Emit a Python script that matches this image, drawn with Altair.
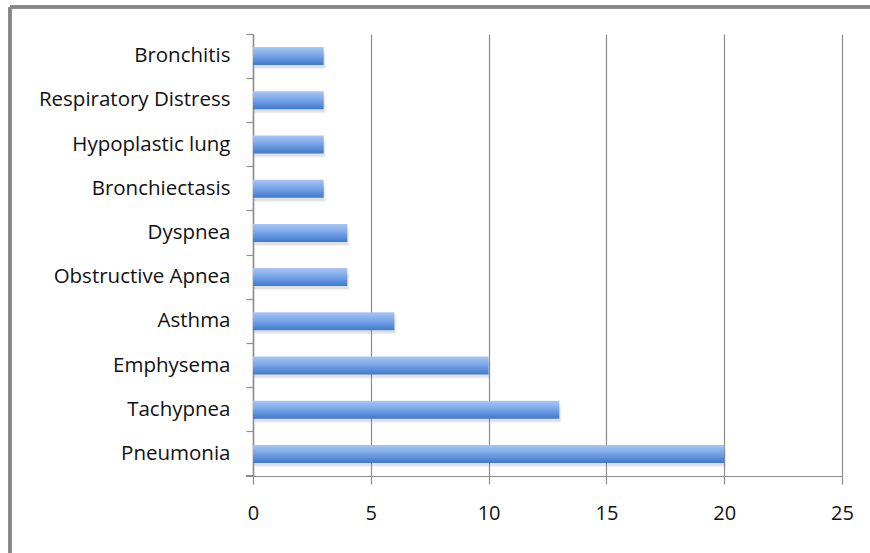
import altair as alt
import pandas as pd

# Respiratory conditions and their case counts
conditions = [
    "Bronchitis", "Respiratory Distress", "Hypoplastic lung", "Bronchiectasis",
    "Dyspnea", "Obstructive Apnea", "Asthma", "Emphysema", "Tachypnea", "Pneumonia",
]
counts = [3, 3, 3, 3, 4, 4, 6, 10, 13, 20]
x_ticks = [0, 5, 10, 15, 20, 25]

df = pd.DataFrame({"condition": conditions, "count": counts})

FONT = "Open Sans"
GRID = "#8c8c8c"
W, H = 589, 442

x_enc = alt.X(
    "count:Q",
    scale=alt.Scale(domain=[0, 25], nice=False),
    axis=alt.Axis(
        values=x_ticks, title=None, grid=True, gridColor=GRID, gridWidth=1.2,
        domain=True, domainColor=GRID, domainWidth=1.2,
        ticks=True, tickColor=GRID, tickSize=8, tickWidth=1.2,
        labelPadding=19, labelFontSize=20, labelFont=FONT, labelColor="#111111",
        labelFlush=False,
    ),
)
y_enc = alt.Y(
    "condition:N",
    sort=conditions,
    scale=alt.Scale(paddingInner=0, paddingOuter=0),
    axis=alt.Axis(
        title=None, grid=False, bandPosition=0,
        domain=True, domainColor=GRID, domainWidth=1.5,
        ticks=True, tickColor=GRID, tickSize=7, tickWidth=1.2,
        labelPadding=16, labelFontSize=20.5, labelFont=FONT, labelColor="#111111",
        labelLimit=300,
    ),
)

# soft drop shadow under each bar
shadow = alt.Chart(df).mark_bar(
    size=18, yOffset=3, xOffset=1, color="#808080", opacity=0.14,
).encode(x=x_enc, y=y_enc)
shadow2 = alt.Chart(df).mark_bar(
    size=16, yOffset=5, xOffset=2, color="#808080", opacity=0.10,
).encode(x=x_enc, y=y_enc)

bars = alt.Chart(df).mark_bar(
    size=18,
    color=alt.Gradient(
        gradient="linear", x1=0, y1=0, x2=0, y2=1,
        stops=[
            alt.GradientStop(color="#a7c6f7", offset=0),
            alt.GradientStop(color="#7faaeb", offset=0.4),
            alt.GradientStop(color="#3f79cc", offset=1),
        ],
    ),
).encode(x=x_enc, y=y_enc)

# closing tick at the bottom of the category axis
bottom_tick = alt.Chart(df).mark_rule(color=GRID, strokeWidth=1.2).encode(
    x=alt.value(-7), x2=alt.value(0), y=alt.value(H)
)

# outer frame (top and left edges)
frame_top = alt.Chart(df).mark_rule(color="#868686", strokeWidth=2.5, clip=False).encode(
    x=alt.value(-243), x2=alt.value(W + 40), y=alt.value(-27)
)
frame_left = alt.Chart(df).mark_rule(color="#868686", strokeWidth=2.5, clip=False).encode(
    x=alt.value(-243), y=alt.value(-27), y2=alt.value(H + 90)
)

chart = (
    alt.layer(shadow2, shadow, bars, bottom_tick, frame_top, frame_left)
    .properties(
        width=W, height=H,
        autosize=alt.AutoSizeParams(type="none"),
        padding={"left": 253, "top": 34, "right": 28, "bottom": 77},
        background="white",
    )
    .configure_view(stroke=None)
)

chart.save("out.html", embed_options={"renderer": "svg", "actions": False})
